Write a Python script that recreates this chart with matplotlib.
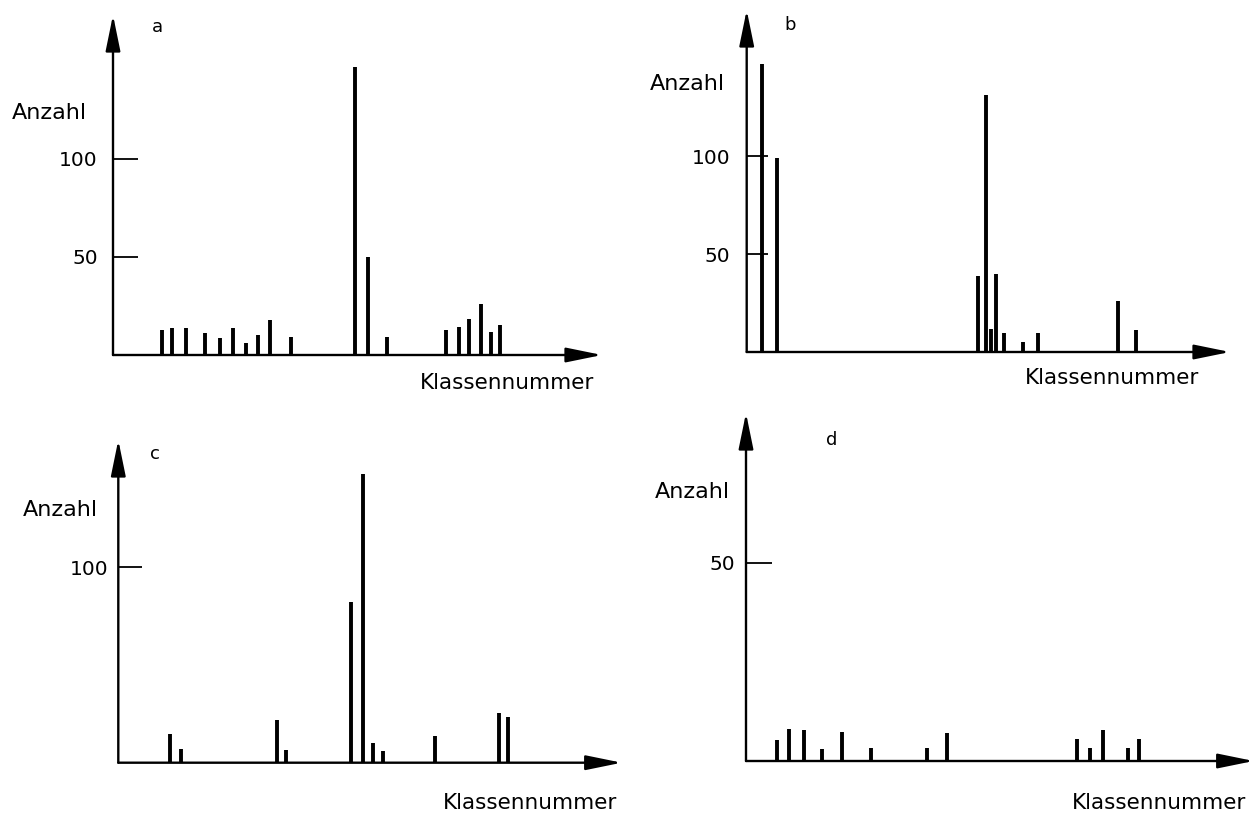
import matplotlib.pyplot as plt
from matplotlib.patches import ArrowStyle

plt.rcParams['font.family'] = ['DejaVu Sans']

W, H = 1257, 814

# Klassennummer (0..100 along the x arrow) and Anzahl per panel
a_klasse = [10.1, 12.1, 14.9, 18.9, 21.9, 24.5, 27.1, 29.6, 32.1, 36.3,
            49.5, 52.2, 56.0, 68.1, 70.8, 72.9, 75.3, 77.3, 79.1]
a_anzahl = [13, 14, 14, 11, 8.5, 14, 6, 10, 18, 9,
            147, 50, 9, 13, 14.5, 18.5, 26, 11.5, 15.5]

b_klasse = [3.1, 6.2, 47.9, 49.5, 50.5, 51.6, 53.2, 57.2, 60.3, 76.9, 80.5]
b_anzahl = [147, 99, 39, 131, 11.5, 40, 9.5, 5, 9.5, 26, 11]

c_klasse = [10.3, 12.4, 31.5, 33.3, 46.3, 48.6, 50.6, 52.6, 63.0, 75.7, 77.5]
c_anzahl = [14.5, 7, 22, 6.5, 82.5, 148, 10, 6, 13.5, 25.5, 23.5]

d_klasse = [6.1, 8.4, 11.5, 15.0, 19.0, 24.7, 35.7, 39.5, 65.1, 67.7, 70.4, 75.3, 77.5]
d_anzahl = [5.4, 8.1, 7.7, 3.1, 7.3, 3.3, 3.3, 7.1, 5.6, 3.3, 7.7, 3.4, 5.5]

a_ticks, a_ticklabels = [50, 100], ['50', '100']
b_ticks, b_ticklabels = [50, 100], ['50', '100']
c_ticks, c_ticklabels = [100], ['100']
d_ticks, d_ticklabels = [50], ['50']

fig = plt.figure(figsize=(W / 100, H / 100), dpi=100)


def fx(x):
    return x / W


def fy(y):
    return 1 - y / H


# layout in pixels: axis origin x, baseline y, x-arrow length, y-arrow height, px per unit
panels = [
    dict(k=a_klasse, n=a_anzahl, t=a_ticks, tl=a_ticklabels, x0=113, base=355, w=489, h=340,
         ppu=1.96, tlen=18, pad=11, letter='a', lpos=(157, 27),
         anz=(12, 113), kl=(420, 383)),
    dict(k=b_klasse, n=b_anzahl, t=b_ticks, tl=b_ticklabels, x0=746.7, base=352, w=483.3, h=342,
         ppu=1.96, tlen=15, pad=12, letter='b', lpos=(790, 25),
         anz=(650, 84), kl=(1025, 378)),
    dict(k=c_klasse, n=c_anzahl, t=c_ticks, tl=c_ticklabels, x0=118.3, base=762.7, w=503.4, h=322.7,
         ppu=1.953, tlen=17, pad=7, letter='c', lpos=(155, 454),
         anz=(23, 510), kl=(443, 803)),
    dict(k=d_klasse, n=d_anzahl, t=d_ticks, tl=d_ticklabels, x0=746, base=761, w=507.7, h=348,
         ppu=3.97, tlen=19, pad=8, letter='d', lpos=(832, 440),
         anz=(655, 492), kl=(1072, 803)),
]

arrow = ArrowStyle('-|>', head_length=22, head_width=4.5)

for p in panels:
    ax = fig.add_axes([fx(p['x0']), fy(p['base']), p['w'] / W, p['h'] / H])
    ax.vlines(p['k'], 0, p['n'], colors='k', linewidth=2.8, capstyle='butt')
    ax.set_xlim(0, 100)
    ax.set_ylim(0, p['h'] / p['ppu'])
    for s in ax.spines.values():
        s.set_visible(False)
    ax.set_xticks([])
    ax.set_yticks(p['t'])
    ax.set_yticklabels(p['tl'])
    ax.tick_params(axis='y', direction='in', length=p['tlen'], width=1.3,
                   pad=p['pad'], labelsize=14.5)
    ax.patch.set_alpha(0)

    for xy in [(1, 0), (0, 1)]:
        ax.annotate('', xy=xy, xytext=(0, 0), xycoords='axes fraction',
                    textcoords='axes fraction', annotation_clip=False,
                    arrowprops=dict(arrowstyle=arrow, mutation_scale=1, lw=1.7,
                                    color='k', shrinkA=0, shrinkB=0))

    fig.text(fx(p['lpos'][0]), fy(p['lpos'][1]), p['letter'], fontsize=13,
             ha='center', va='center')
    fig.text(fx(p['anz'][0]), fy(p['anz'][1]), 'Anzahl', fontsize=16,
             ha='left', va='center')
    fig.text(fx(p['kl'][0]), fy(p['kl'][1]), 'Klassennummer', fontsize=15.5,
             ha='left', va='center')

fig.savefig('out.png', dpi=100, facecolor='white')
